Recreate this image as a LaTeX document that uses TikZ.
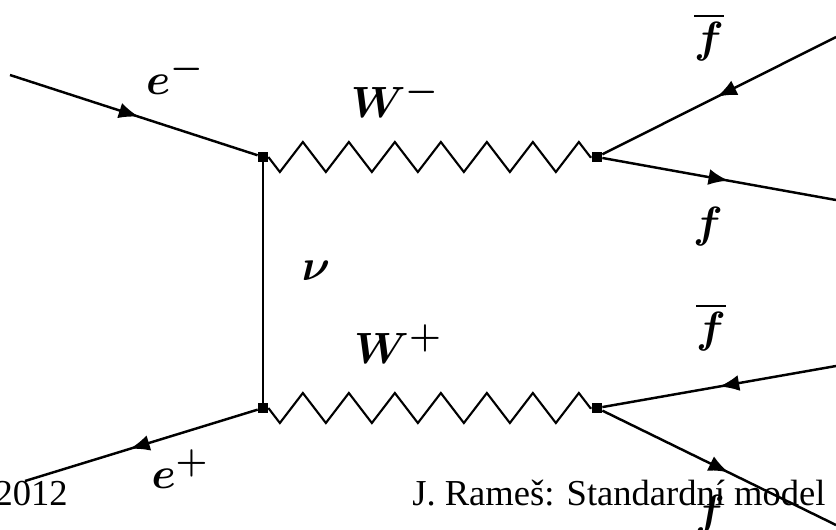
\documentclass[tikz,border=0pt]{standalone}
\usepackage{amsmath}
\usepackage{fontspec}
\setmainfont{Liberation Serif}
\usepackage{tikz}
\usetikzlibrary{arrows.meta, decorations.markings, decorations.pathmorphing}

\tikzset{
  vertex/.style={fill, rectangle, inner sep=0pt, minimum size=0.2cm},
  fermion/.style={line width=1.4pt, postaction={decorate},
    decoration={markings, mark=at position #1 with {\arrow{Latex[length=0.4cm, width=0.32cm]}}}},
  fermion/.default=0.52,
  boson/.style={line width=1.2pt, decorate,
    decoration={zigzag, segment length=0.92cm, amplitude=0.3cm, mirror}},
  plabel/.style={font=\Huge\boldmath, inner sep=0pt},
  slidetext/.style={font=\fontsize{20.8}{24}\selectfont, inner sep=0pt},
}

\begin{document}
\begin{tikzpicture}
  \useasboundingbox (0,0) rectangle (16.72,10.58);

  % vertices
  \node[vertex] (A) at (5.26, 7.44) {};
  \node[vertex] (B) at (5.26, 2.42) {};
  \node[vertex] (C) at (11.94, 7.44) {};
  \node[vertex] (D) at (11.94, 2.42) {};

  % free ends of the external legs
  \coordinate (em) at (0.2, 9.08);
  \coordinate (ep) at (0.5, 0.96);
  \coordinate (fb1) at (16.72, 9.84);
  \coordinate (f1) at (16.72, 6.58);
  \coordinate (fb2) at (16.72, 3.26);
  \coordinate (f2) at (16.72, 0.08);

  \draw[fermion] (em) -- (A);
  \draw[fermion=0.55] (B) -- (ep);
  \draw[line width=1.4pt] (A) -- (B);
  \draw[boson] (A) -- (C);
  \draw[boson] (B) -- (D);
  \draw[fermion=0.51] (fb1) -- (C);
  \draw[fermion=0.54] (C) -- (f1);
  \draw[fermion=0.5] (fb2) -- (D);
  \draw[fermion=0.54] (D) -- (f2);

  % particle labels
  \node[plabel] (lem) at (3.5, 9.08) {$e^{-}$};
  \node[plabel] (lwm) at (7.9, 8.62) {$W^{-}$};
  \node[plabel] (lfb1) at (14.18, 9.84) {$\overline{f}$};
  \node[plabel] (lf1) at (14.16, 6.04) {$f$};
  \node[plabel] (lnu) at (6.32, 5.16) {$\nu$};
  \node[plabel] (lwp) at (7.96, 3.7) {$W^{+}$};
  \node[plabel] (lfb2) at (14.22, 4.04) {$\overline{f}$};
  \node[plabel] (lf2) at (14.2, 0.28) {$f$};
  \node[plabel] (lep) at (3.6, 1.2) {$e^{+}$};

  % slide footer
  \node[slidetext, anchor=base east] (date) at (1.36, 0.48) {2012};
  \node[slidetext, anchor=base west] (author) at (8.24, 0.48) {J. Rameš: Standardní model};
\end{tikzpicture}
\end{document}
